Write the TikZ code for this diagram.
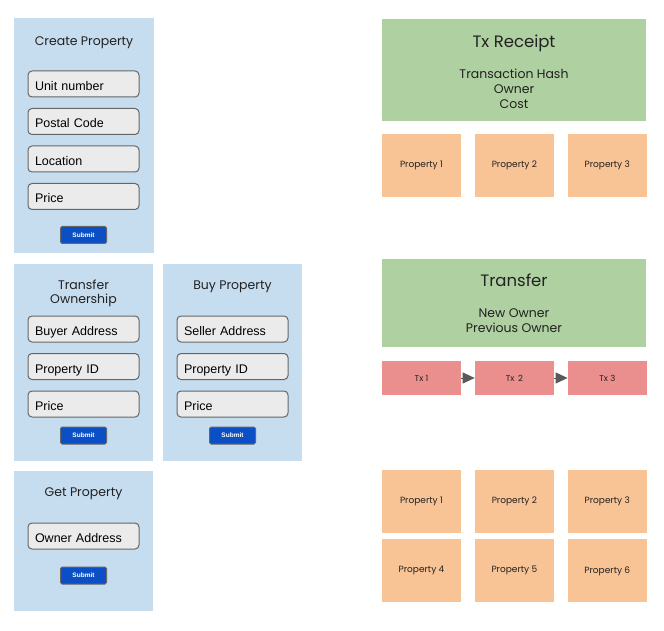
\documentclass[tikz,border=0pt]{standalone}
\usepackage{fontspec}
\setmainfont{Liberation Sans}
\newfontfamily\titlefont{Poppins}
\usetikzlibrary{arrows.meta, positioning}
\definecolor{panelbg}{HTML}{C6DCEF}
\definecolor{fieldbg}{HTML}{EBEBEB}
\definecolor{fieldborder}{HTML}{666666}
\definecolor{btnblue}{HTML}{0B4FC6}
\definecolor{receiptgreen}{HTML}{AFD0A1}
\definecolor{proporange}{HTML}{F9C495}
\definecolor{txred}{HTML}{EA8E8E}
\definecolor{inkdark}{HTML}{222222}
\definecolor{arrowgray}{HTML}{595959}
\tikzset{
  panel/.style={rectangle, fill=panelbg, draw=none, inner sep=0pt},
  formtitle/.style={font=\titlefont\fontsize{12.5}{15}\selectfont, text=inkdark, align=center, inner sep=0pt, yshift=-2.5pt},
  field/.style={
    rectangle, rounded corners=4pt, fill=fieldbg, draw=fieldborder, line width=1pt,
    minimum width=111pt, minimum height=26pt, text width=97pt, align=left,
    text height=13pt, text depth=0pt,
    font=\fontsize{12.5}{15}\selectfont, inner sep=0pt
  },
  submitbtn/.style={
    rectangle, rounded corners=1.5pt, fill=btnblue, draw=fieldborder, line width=1pt,
    minimum width=46pt, minimum height=17pt, inner sep=0pt,
    text=white, font=\bfseries\fontsize{6.5}{8}\selectfont
  },
  headblock/.style={
    rectangle, fill=receiptgreen, minimum width=264pt, inner sep=0pt,
    font=\titlefont\fontsize{12.5}{15}\selectfont, text=inkdark, align=center
  },
  propblock/.style={
    rectangle, fill=proporange, minimum width=79pt, minimum height=63pt, inner sep=0pt,
    font=\titlefont\fontsize{9}{11}\selectfont, text=inkdark
  },
  txblock/.style={
    rectangle, fill=txred, minimum width=79pt, minimum height=34pt, inner sep=0pt,
    font=\titlefont\fontsize{8.5}{10}\selectfont, text=inkdark
  },
  chainline/.style={
    draw=arrowgray, line width=1pt, -{Triangle[length=12pt, width=11pt]}
  }
}
\begin{document}
\begin{tikzpicture}[x=1pt, y=-1pt, node distance=10.5pt]
  \useasboundingbox[fill=white] (0,0) rectangle (664,631);

  % create property form
  \node[panel, minimum width=140pt, minimum height=235pt] (create) at (84,135.5) {};
  \node[formtitle] (create_title) at (84,40) {Create Property};
  \node[field] (create_unit) at (83.5,84) {Unit number};
  \node[field, below=of create_unit] (create_postal) {Postal Code};
  \node[field, below=of create_postal] (create_location) {Location};
  \node[field, below=of create_location] (create_price) {Price};
  \node[submitbtn, below=16pt of create_price] (create_submit) {Submit};

  % transfer ownership form
  \node[panel, minimum width=139pt, minimum height=197pt] (transfer) at (83.5,362.5) {};
  \node[formtitle] (transfer_title) at (83.5,291) {Transfer\\[-1pt]Ownership};
  \node[field] (transfer_buyer) at (83.5,329) {Buyer Address};
  \node[field, below=of transfer_buyer] (transfer_id) {Property ID};
  \node[field, below=of transfer_id] (transfer_price) {Price};
  \node[submitbtn, below=9pt of transfer_price] (transfer_submit) {Submit};

  % buy property form
  \node[panel, minimum width=139pt, minimum height=197pt] (buy) at (232.5,362.5) {};
  \node[formtitle] (buy_title) at (232.5,284) {Buy Property};
  \node[field] (buy_seller) at (232.5,329) {Seller Address};
  \node[field, below=of buy_seller] (buy_id) {Property ID};
  \node[field, below=of buy_id] (buy_price) {Price};
  \node[submitbtn, below=9pt of buy_price] (buy_submit) {Submit};

  % get property form
  \node[panel, minimum width=139pt, minimum height=140pt] (get) at (83.5,541) {};
  \node[formtitle] (get_title) at (83.5,491) {Get Property};
  \node[field] (get_owner) at (83.5,536) {Owner Address};
  \node[submitbtn, below=17pt of get_owner] (get_submit) {Submit};

  % receipt and its properties
  \node[headblock, minimum height=102pt] (receipt) at (514,70) {};
  \node[formtitle, font=\titlefont\fontsize{16.5}{20}\selectfont] (receipt_title) at (514,40.5) {Tx Receipt};
  \node[formtitle, below=23pt of receipt_title.center, anchor=north] (receipt_fields) {Transaction Hash\\Owner\\Cost};
  \node[propblock] (rprop1) at (421.5,165.5) {Property 1};
  \node[propblock, right=13.5pt of rprop1] (rprop2) {Property 2};
  \node[propblock, right=13.5pt of rprop2] (rprop3) {Property 3};

  % transfer chain
  \node[headblock, minimum height=88pt] (transferbox) at (514,303) {};
  \node[formtitle, font=\titlefont\fontsize{16.5}{20}\selectfont] (transferbox_title) at (514,278) {Transfer};
  \node[formtitle, below=25pt of transferbox_title.center, anchor=north] (transferbox_fields) {New Owner\\Previous Owner};
  \node[txblock] (tx1) at (421.5,378) {Tx 1};
  \node[txblock, right=13.5pt of tx1] (tx2) {Tx \,2};
  \node[txblock, right=13.5pt of tx2] (tx3) {Tx 3};
  \draw[chainline] (tx1) -- (tx2);
  \draw[chainline] (tx2) -- (tx3);

  % owned properties
  \node[propblock] (oprop1) at (421.5,501.5) {Property 1};
  \node[propblock, right=13.5pt of oprop1] (oprop2) {Property 2};
  \node[propblock, right=13.5pt of oprop2] (oprop3) {Property 3};
  \node[propblock, below=6pt of oprop1] (oprop4) {Property 4};
  \node[propblock, right=13.5pt of oprop4] (oprop5) {Property 5};
  \node[propblock, right=13.5pt of oprop5] (oprop6) {Property 6};
\end{tikzpicture}
\end{document}
